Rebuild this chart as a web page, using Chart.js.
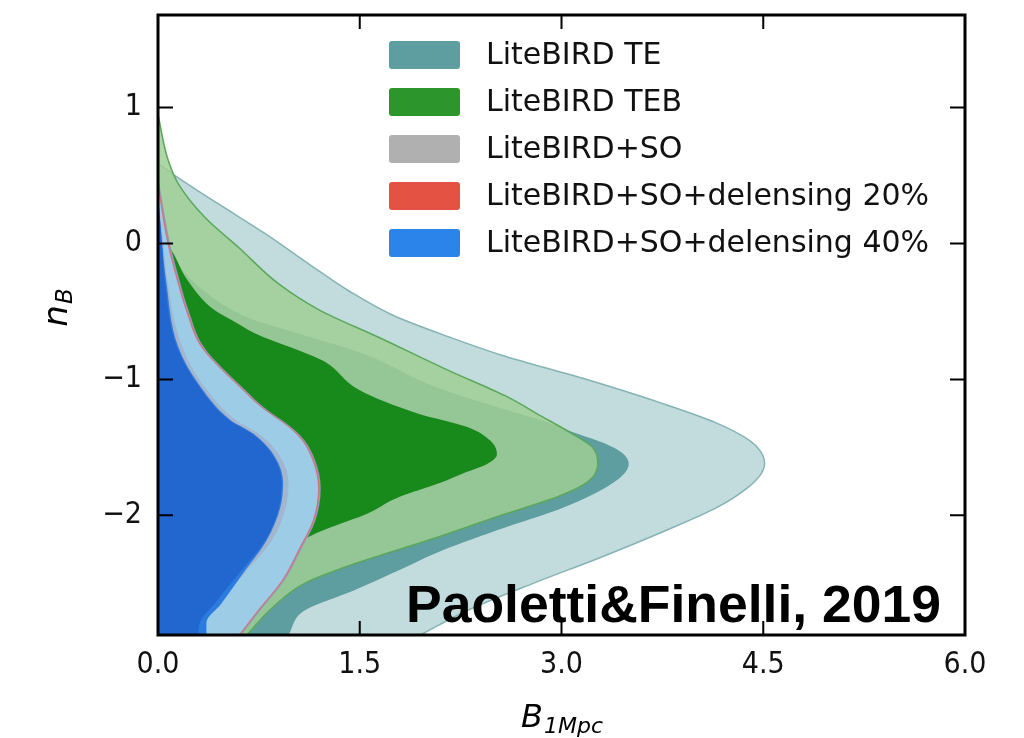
<!DOCTYPE html>
<html>
<head>
<meta charset="utf-8">
<script src="https://cdn.jsdelivr.net/npm/chart.js@4/dist/chart.umd.min.js"></script>
<style>
  html, body { margin: 0; padding: 0; background: #fff; }
  canvas { display: block; }
</style>
</head>
<body>
<canvas id="c" width="1024" height="738"></canvas>
<script>
// Contour edges: n_B values (bottom to top) and the B_1Mpc position of each
// region's right-hand edge; every region is filled from B = 0 out to its edge.

// LiteBIRD TE, 95% and 68%
const te95Y = [-2.88, -2.70, -2.50, -2.31, -2.11, -1.94, -1.80, -1.70, -1.62, -1.53, -1.45, -1.32, -1.18, -1.01, -0.82, -0.69, -0.53, -0.35, -0.15, 0.07, 0.29, 0.49, 0.59];
const te95X = [1.95, 2.30, 2.79, 3.29, 3.78, 4.16, 4.38, 4.48, 4.51, 4.48, 4.40, 4.15, 3.76, 3.22, 2.55, 2.17, 1.75, 1.42, 1.12, 0.80, 0.45, 0.14, 0.00];
const te68Y = [-2.88, -2.70, -2.55, -2.40, -2.28, -2.11, -1.94, -1.80, -1.70, -1.62, -1.54, -1.47, -1.40, -1.30, -1.21, -1.05, -0.81, -0.65, -0.55, -0.38, -0.12, 0.10];
const te68X = [0.97, 1.09, 1.46, 1.80, 2.06, 2.52, 3.02, 3.32, 3.46, 3.50, 3.45, 3.32, 3.12, 2.85, 2.54, 2.05, 1.52, 1.00, 0.68, 0.38, 0.12, 0.00];

// LiteBIRD TEB, 95% and 68%
const teb95Y = [-2.88, -2.68, -2.50, -2.36, -2.18, -2.01, -1.86, -1.75, -1.62, -1.50, -1.40, -1.27, -1.12, -0.93, -0.69, -0.49, -0.30, -0.03, 0.19, 0.44, 0.63, 0.95];
const teb95X = [0.66, 0.85, 1.09, 1.45, 2.02, 2.52, 2.98, 3.20, 3.27, 3.23, 3.08, 2.85, 2.58, 2.15, 1.64, 1.20, 0.90, 0.60, 0.35, 0.15, 0.07, 0.00];
const teb68Y = [-2.30, -2.18, -2.09, -1.99, -1.87, -1.76, -1.69, -1.62, -1.55, -1.45, -1.35, -1.25, -1.08, -0.86, -0.66, -0.57, -0.49, -0.27, -0.05, 0.08];
const teb68X = [0.95, 1.08, 1.28, 1.55, 1.78, 2.10, 2.27, 2.45, 2.52, 2.47, 2.30, 1.93, 1.50, 1.22, 0.72, 0.56, 0.42, 0.22, 0.10, 0.00];

// LiteBIRD+SO
const so95Y = [-2.88, -2.70, -2.48, -2.24, -2.04, -1.80, -1.60, -1.45, -1.36, -1.20, -1.08, -0.76, -0.50, -0.27, 0.00, 0.50];
const so95X = [0.62, 0.76, 0.94, 1.07, 1.17, 1.21, 1.17, 1.09, 1.00, 0.78, 0.65, 0.34, 0.23, 0.16, 0.09, 0.00];
const so68Y = [-2.88, -2.79, -2.65, -2.43, -2.18, -1.94, -1.76, -1.57, -1.40, -1.30, -1.06, -0.76, -0.27, 0.00, 0.35];
const so68X = [0.33, 0.33, 0.45, 0.64, 0.85, 0.95, 0.97, 0.91, 0.75, 0.58, 0.35, 0.18, 0.07, 0.04, 0.00];

// LiteBIRD+SO+delensing 20%
const d20_95Y = [-2.88, -2.70, -2.48, -2.24, -2.04, -1.80, -1.60, -1.45, -1.36, -1.20, -1.08, -0.76, -0.50, -0.27, 0.00, 0.45];
const d20_95X = [0.61, 0.75, 0.93, 1.06, 1.16, 1.20, 1.16, 1.08, 0.99, 0.77, 0.64, 0.33, 0.22, 0.15, 0.08, 0.00];
const d20_68Y = [-2.88, -2.79, -2.65, -2.43, -2.18, -1.94, -1.76, -1.57, -1.40, -1.30, -1.06, -0.76, -0.27, 0.00, 0.35];
const d20_68X = [0.36, 0.36, 0.47, 0.63, 0.81, 0.91, 0.93, 0.87, 0.71, 0.54, 0.32, 0.15, 0.06, 0.03, 0.00];

// LiteBIRD+SO+delensing 40%
const d40_95Y = [-2.88, -2.70, -2.48, -2.24, -2.04, -1.80, -1.60, -1.45, -1.36, -1.20, -1.08, -0.76, -0.50, -0.27, 0.00, 0.40];
const d40_95X = [0.60, 0.74, 0.92, 1.05, 1.15, 1.19, 1.15, 1.07, 0.98, 0.76, 0.63, 0.32, 0.21, 0.14, 0.07, 0.00];
const d40_68Y = [-2.88, -2.79, -2.65, -2.43, -2.18, -1.94, -1.76, -1.57, -1.40, -1.30, -1.06, -0.76, -0.27, 0.00, 0.35];
const d40_68X = [0.30, 0.31, 0.42, 0.60, 0.80, 0.90, 0.92, 0.86, 0.70, 0.53, 0.31, 0.14, 0.05, 0.03, 0.00];

// Legend entries and axis ticks
const seriesNames = ['LiteBIRD TE', 'LiteBIRD TEB', 'LiteBIRD+SO', 'LiteBIRD+SO+delensing 20%', 'LiteBIRD+SO+delensing 40%'];
const seriesColors = ['#5f9ea0', '#2c962c', '#b0b0b0', '#e45244', '#2a84ea'];
const xTicks = [0, 1.5, 3, 4.5, 6];
const yTicks = [-2, -1, 0, 1];
const creditText = 'Paoletti&Finelli, 2019';

const pts = (xs, ys) => xs.map((v, i) => ({ x: v, y: ys[i] }));

// back-to-front drawing order
const regions = [
  { data: pts(te95X, te95Y), fill: '#c2dcdd', line: '#86b3b4', lw: 1.5 },
  { data: pts(te68X, te68Y), fill: '#5f9ea0' },
  { data: pts(teb95X, teb95Y), fill: 'rgba(159,206,148,0.83)', line: '#5aa85a', lw: 1.5 },
  { data: pts(teb68X, teb68Y), fill: '#188a1c' },
  { data: pts(so95X, so95Y), fill: '#9a98b8' },
  { data: pts(d20_95X, d20_95Y), fill: '#cf7480' },
  { data: pts(d40_95X, d40_95Y), fill: '#9dcce7' },
  { data: pts(so68X, so68Y), fill: '#a3b6cd' },
  { data: pts(d20_68X, d20_68Y), fill: '#2c7ce0' },
  { data: pts(d40_68X, d40_68Y), fill: '#2266d0' }
];

const datasets = regions.map((r, i) => ({
  data: r.data,
  order: -i,
  fill: 'origin',
  backgroundColor: r.fill,
  borderColor: r.line || 'rgba(0,0,0,0)',
  borderWidth: r.lw || 0,
  pointRadius: 0,
  cubicInterpolationMode: 'monotone'
}));

const tickFont = { family: "'DejaVu Sans Condensed', 'DejaVu Sans', sans-serif", size: 30 };

const decor = {
  id: 'decor',
  afterDatasetsDraw(chart) {
    const { ctx, chartArea: a, scales: { x, y } } = chart;
    ctx.save();

    // inward tick marks on all four sides
    ctx.strokeStyle = '#000';
    ctx.lineWidth = 2;
    ctx.beginPath();
    xTicks.forEach(v => {
      if (v <= x.min || v >= x.max) return;
      const px = x.getPixelForValue(v);
      ctx.moveTo(px, a.bottom); ctx.lineTo(px, a.bottom - 14);
      ctx.moveTo(px, a.top); ctx.lineTo(px, a.top + 14);
    });
    yTicks.forEach(v => {
      const py = y.getPixelForValue(v);
      ctx.moveTo(a.left, py); ctx.lineTo(a.left + 15, py);
      ctx.moveTo(a.right, py); ctx.lineTo(a.right - 15, py);
    });
    ctx.stroke();

    // frame
    ctx.lineWidth = 3;
    ctx.strokeRect(a.left, a.top, a.right - a.left, a.bottom - a.top);

    // legend
    const rowY = [55, 102, 149, 196, 243];
    ctx.font = "30px 'DejaVu Sans', sans-serif";
    ctx.textBaseline = 'middle';
    ctx.textAlign = 'left';
    seriesNames.forEach((name, i) => {
      ctx.fillStyle = seriesColors[i];
      ctx.beginPath();
      if (ctx.roundRect) ctx.roundRect(389, rowY[i] - 14, 71, 28, 3);
      else ctx.rect(389, rowY[i] - 14, 71, 28);
      ctx.fill();
      ctx.fillStyle = '#111';
      ctx.fillText(name, 486, rowY[i] + 1);
    });

    // credit line
    ctx.font = "bold 51px 'Liberation Sans', Arial, sans-serif";
    ctx.textBaseline = 'alphabetic';
    ctx.fillStyle = '#000';
    const w = ctx.measureText(creditText).width;
    ctx.save();
    ctx.translate(406, 622);
    ctx.scale(535 / w, 1);
    ctx.fillText(creditText, 0, 0);
    ctx.restore();

    // x-axis title: B with subscript 1Mpc
    const cx = (a.left + a.right) / 2;
    ctx.font = "italic 32px 'DejaVu Sans', sans-serif";
    const wB = ctx.measureText('B').width;
    ctx.font = "italic 22px 'DejaVu Sans', sans-serif";
    const wS = ctx.measureText('1Mpc').width;
    const sx = cx - (wB + wS) / 2;
    ctx.font = "italic 32px 'DejaVu Sans', sans-serif";
    ctx.fillText('B', sx, 727);
    ctx.font = "italic 22px 'DejaVu Sans', sans-serif";
    ctx.fillText('1Mpc', sx + wB + 1, 733);

    // y-axis title: n with subscript B
    ctx.save();
    ctx.translate(0, 308);
    ctx.rotate(-Math.PI / 2);
    ctx.font = "italic 34px 'DejaVu Sans', sans-serif";
    const wn = ctx.measureText('n').width;
    ctx.font = "italic 23px 'DejaVu Sans', sans-serif";
    const wb = ctx.measureText('B').width;
    const s0 = -(wn + wb) / 2;
    ctx.font = "italic 34px 'DejaVu Sans', sans-serif";
    ctx.fillText('n', s0, 67);
    ctx.font = "italic 23px 'DejaVu Sans', sans-serif";
    ctx.fillText('B', s0 + wn + 1, 72);
    ctx.restore();

    ctx.restore();
  }
};

new Chart(document.getElementById('c'), {
  type: 'line',
  data: { datasets },
  options: {
    indexAxis: 'y',
    responsive: false,
    animation: false,
    events: [],
    layout: { padding: { top: 15, right: 59, left: 0, bottom: 0 } },
    scales: {
      x: {
        type: 'linear', position: 'bottom', min: 0, max: 6,
        grid: { display: false, drawTicks: false },
        border: { display: false },
        afterBuildTicks: s => { s.ticks = xTicks.map(v => ({ value: v })); },
        afterFit: s => { s.height = 103; s.paddingLeft = 0; s.paddingRight = 0; },
        ticks: {
          padding: 12, color: '#111', font: tickFont, maxRotation: 0,
          callback: v => Number(v).toFixed(1)
        }
      },
      y: {
        type: 'linear', position: 'left', min: -2.88, max: 1.68,
        grid: { display: false, drawTicks: false },
        border: { display: false },
        afterBuildTicks: s => { s.ticks = yTicks.map(v => ({ value: v })); },
        afterFit: s => { s.width = 158; s.paddingTop = 0; s.paddingBottom = 0; },
        ticks: {
          padding: 16, color: '#111', font: tickFont,
          callback: v => (v < 0 ? '\u2212' + Math.abs(v) : String(v))
        }
      }
    },
    plugins: { legend: { display: false }, tooltip: { enabled: false } }
  },
  plugins: [decor]
});
</script>
</body>
</html>
